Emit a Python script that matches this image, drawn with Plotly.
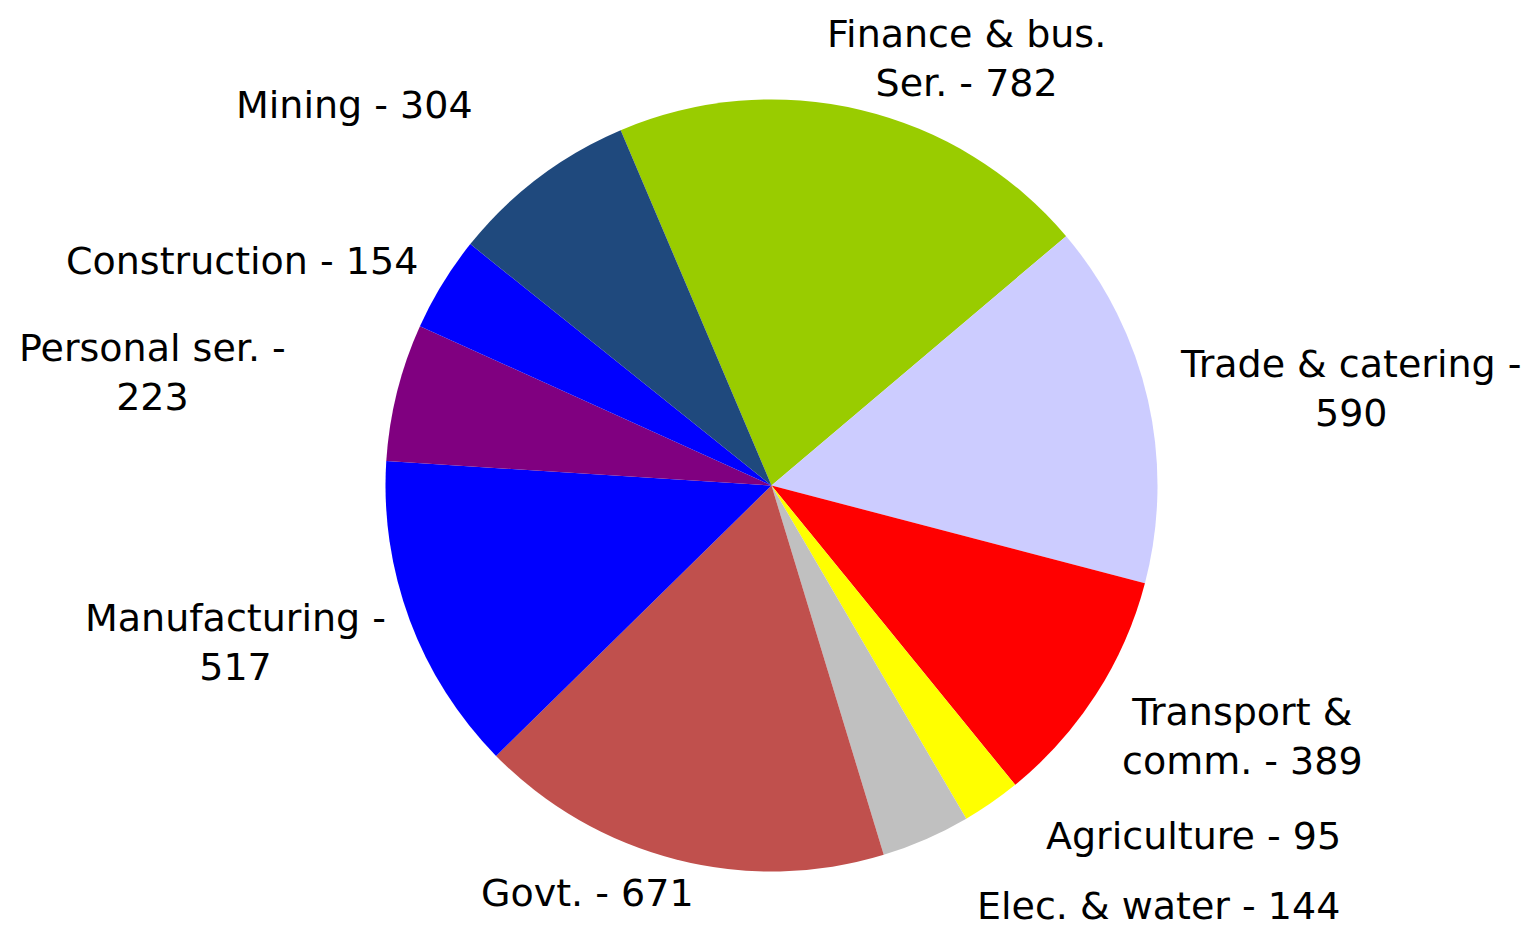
import plotly.graph_objects as go

# data
sectors = ["Finance & bus. Ser.", "Trade & catering", "Transport & comm.", "Agriculture",
           "Elec. & water", "Govt.", "Manufacturing", "Personal ser.", "Construction", "Mining"]
values = [782, 590, 389, 95, 144, 671, 517, 223, 154, 304]
label_text = ["Finance & bus.<br>Ser. - 782", "Trade & catering -<br>590", "Transport &<br>comm. - 389",
              "Agriculture - 95", "Elec. & water - 144", "Govt. - 671", "Manufacturing -<br>517",
              "Personal ser. -<br>223", "Construction - 154", "Mining - 304"]
colors = ["#99CC00", "#CCCCFF", "#FF0000", "#FFFF00", "#C0C0C0", "#C0504D", "#0000FF", "#800080",
          "#0000FF", "#1F497D"]

# layout: label block centres (page pixels)
label_x_px = [966, 1350, 1242, 1193, 1158, 587, 235, 152, 242, 354]
label_y_px = [58, 388, 736, 836, 906, 893, 642, 373, 261, 105]

W, H = 1534, 928
OFF = 8  # page body margin
cx, cy, r = 763.5, 477.5, 386

fig = go.Figure(go.Pie(
    labels=sectors,
    values=values,
    textinfo="none",
    sort=False,
    direction="clockwise",
    rotation=-23,
    marker=dict(colors=colors, line=dict(width=0)),
    showlegend=False,
    hoverinfo="label+value",
    domain=dict(x=[(cx - r) / W, (cx + r) / W], y=[(H - cy - r) / H, (H - cy + r) / H]),
))

for txt, px, py in zip(label_text, label_x_px, label_y_px):
    fig.add_annotation(
        text=txt, x=(px - OFF) / W, y=1 - (py - OFF) / H, xref="paper", yref="paper",
        xanchor="center", yanchor="middle", align="center", showarrow=False, borderpad=0,
        font=dict(family="DejaVu Sans, Arial, sans-serif", size=38, color="#000000"),
    )

fig.update_layout(
    width=W, height=H,
    margin=dict(l=0, r=0, t=0, b=0),
    paper_bgcolor="white",
    plot_bgcolor="white",
)

fig.write_html("out.html")
